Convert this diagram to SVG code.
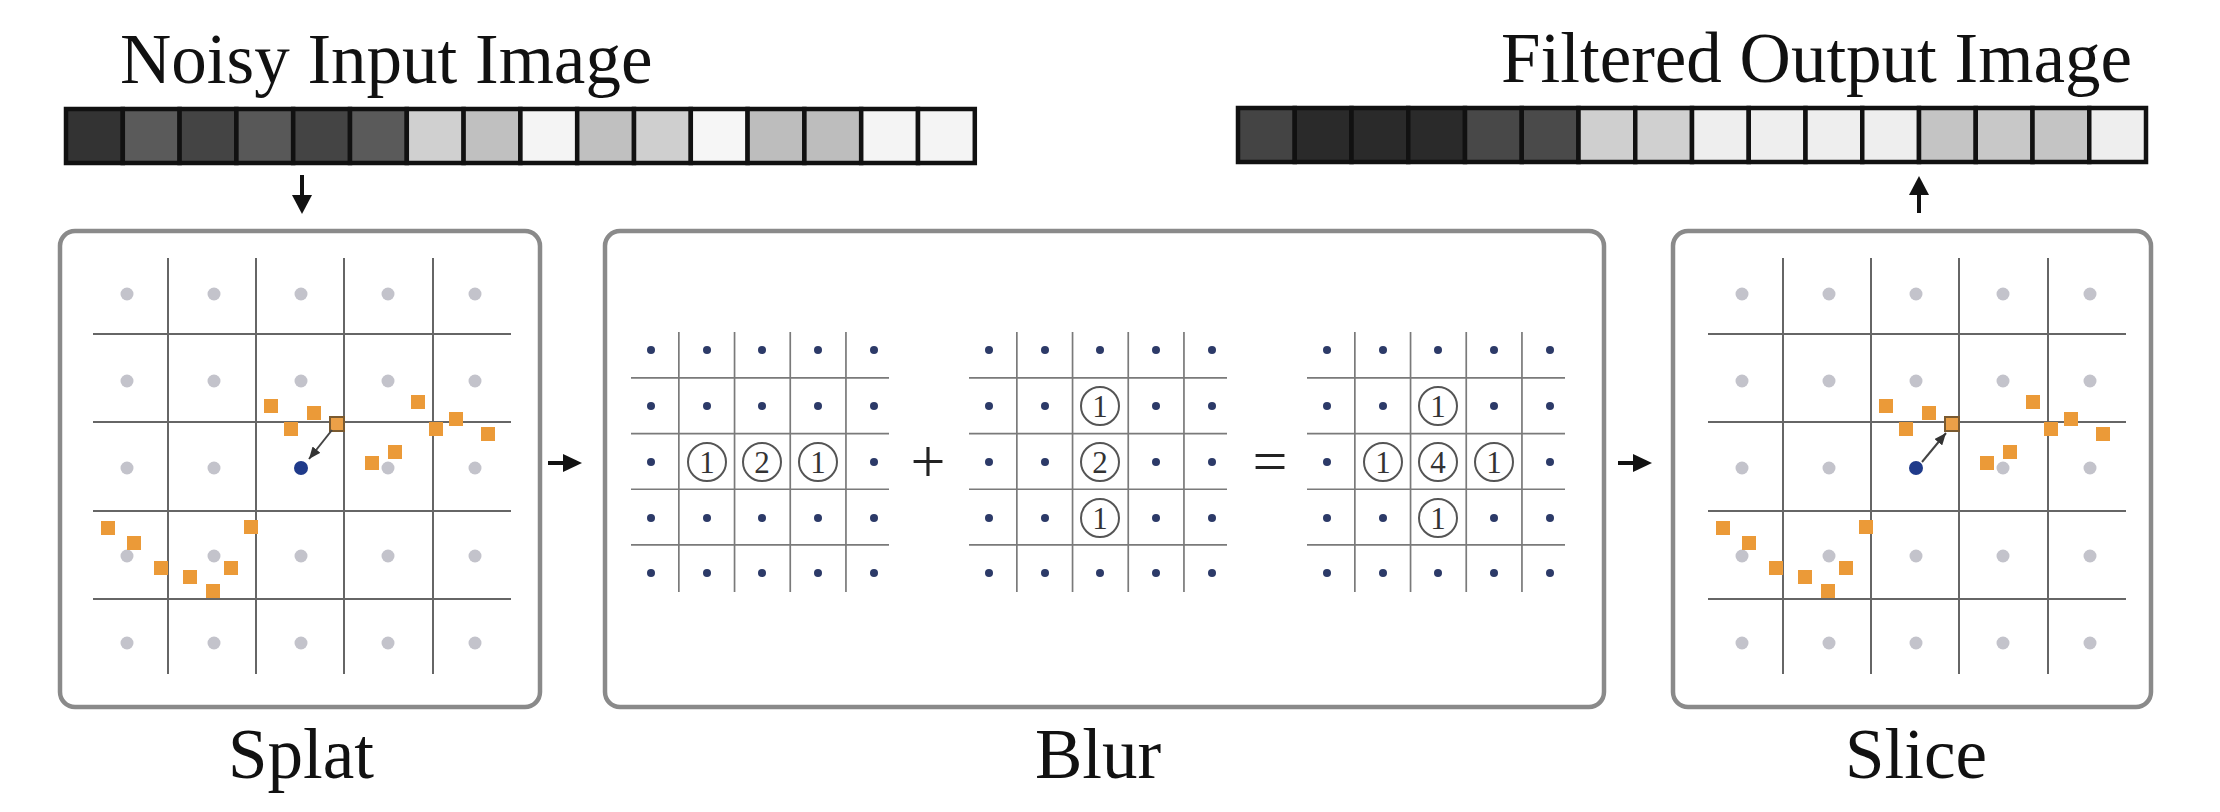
<svg xmlns="http://www.w3.org/2000/svg" width="2220" height="812" viewBox="0 0 2220 812">
<style>
.title{font-family:"Liberation Serif","Times New Roman",serif;font-size:71px;fill:#111}
.cell{stroke:#111;stroke-width:4.5}
.panel{fill:#fff;stroke:#8a8a8a;stroke-width:4.5}
.sg{stroke:#666;stroke-width:2;fill:none}
.bg{stroke:#7a7a7a;stroke-width:1.7;fill:none}
.gd{fill:#c3c3cb}
.bd{fill:#2c3a68}
.sq{fill:#eb9a38}
.cn{fill:#fff;stroke:#555;stroke-width:2}
.cnt{font-family:"Liberation Serif","Times New Roman",serif;font-size:31px;fill:#333;text-anchor:middle}
.op{font-family:"Liberation Serif","Times New Roman",serif;font-size:62px;fill:#222;text-anchor:middle}
.big{stroke:#111;stroke-width:4;fill:none}
.head{fill:#111}
.small{stroke:#444;stroke-width:2;fill:none}
</style>
<defs>
<marker id="sm" markerUnits="userSpaceOnUse" markerWidth="12" markerHeight="10" refX="12" refY="5" orient="auto">
<path d="M0,0 L12,5 L0,10 z" fill="#333"/>
</marker>
<g id="bgrid">
<path class="bg" d="M47.85,0V260M103.55,0V260M159.25,0V260M214.95,0V260M0,45.85H258M0,101.55H258M0,157.25H258M0,212.95H258"/>
</g>
<g id="field">
<path class="sg" d="M168,258V674M256,258V674M344,258V674M433,258V674M93,334H511M93,422H511M93,511H511M93,599H511"/>
<g class="gd">
<circle cx="127" cy="294" r="6.5"/><circle cx="214" cy="294" r="6.5"/><circle cx="301" cy="294" r="6.5"/><circle cx="388" cy="294" r="6.5"/><circle cx="475" cy="294" r="6.5"/>
<circle cx="127" cy="381" r="6.5"/><circle cx="214" cy="381" r="6.5"/><circle cx="301" cy="381" r="6.5"/><circle cx="388" cy="381" r="6.5"/><circle cx="475" cy="381" r="6.5"/>
<circle cx="127" cy="468" r="6.5"/><circle cx="214" cy="468" r="6.5"/><circle cx="388" cy="468" r="6.5"/><circle cx="475" cy="468" r="6.5"/>
<circle cx="127" cy="556" r="6.5"/><circle cx="214" cy="556" r="6.5"/><circle cx="301" cy="556" r="6.5"/><circle cx="388" cy="556" r="6.5"/><circle cx="475" cy="556" r="6.5"/>
<circle cx="127" cy="643" r="6.5"/><circle cx="214" cy="643" r="6.5"/><circle cx="301" cy="643" r="6.5"/><circle cx="388" cy="643" r="6.5"/><circle cx="475" cy="643" r="6.5"/>
</g>
<g class="sq">
<rect x="264" y="399" width="14" height="14"/><rect x="307" y="406" width="14" height="14"/><rect x="284" y="422" width="14" height="14"/>
<rect x="411" y="395" width="14" height="14"/><rect x="449" y="412" width="14" height="14"/><rect x="429" y="422" width="14" height="14"/><rect x="481" y="427" width="14" height="14"/>
<rect x="388" y="445" width="14" height="14"/><rect x="365" y="456" width="14" height="14"/>
<rect x="101" y="521" width="14" height="14"/><rect x="127" y="536" width="14" height="14"/><rect x="154" y="561" width="14" height="14"/><rect x="183" y="570" width="14" height="14"/><rect x="206" y="584" width="14" height="14"/><rect x="224" y="561" width="14" height="14"/><rect x="244" y="520" width="14" height="14"/>
</g>
<rect x="330" y="417" width="14" height="14" fill="#eba048" stroke="#7a5a30" stroke-width="2"/>
<circle cx="301" cy="468" r="7" fill="#1f3a8a"/>
</g>
</defs>
<rect width="2220" height="812" fill="#fff"/>

<g id="noisy-input">
<text class="title" x="120" y="83">Noisy Input Image</text>
<rect class="cell" x="66" y="109" width="56.8" height="54" fill="#333"/>
<rect class="cell" x="122.8" y="109" width="56.8" height="54" fill="#5a5a5a"/>
<rect class="cell" x="179.6" y="109" width="56.8" height="54" fill="#444"/>
<rect class="cell" x="236.4" y="109" width="56.8" height="54" fill="#585858"/>
<rect class="cell" x="293.2" y="109" width="56.8" height="54" fill="#444"/>
<rect class="cell" x="350" y="109" width="56.8" height="54" fill="#5a5a5a"/>
<rect class="cell" x="406.8" y="109" width="56.8" height="54" fill="#d0d0d0"/>
<rect class="cell" x="463.6" y="109" width="56.8" height="54" fill="#c0c0c0"/>
<rect class="cell" x="520.4" y="109" width="56.8" height="54" fill="#f4f4f4"/>
<rect class="cell" x="577.2" y="109" width="56.8" height="54" fill="#c0c0c0"/>
<rect class="cell" x="634" y="109" width="56.8" height="54" fill="#cfcfcf"/>
<rect class="cell" x="690.8" y="109" width="56.8" height="54" fill="#f6f6f6"/>
<rect class="cell" x="747.6" y="109" width="56.8" height="54" fill="#bdbdbd"/>
<rect class="cell" x="804.4" y="109" width="56.8" height="54" fill="#bdbdbd"/>
<rect class="cell" x="861.2" y="109" width="56.8" height="54" fill="#f4f4f4"/>
<rect class="cell" x="918" y="109" width="56.8" height="54" fill="#f4f4f4"/>
</g>

<g id="filtered-output">
<text class="title" x="2132" y="82" text-anchor="end">Filtered Output Image</text>
<rect class="cell" x="1238" y="108" width="56.75" height="54" fill="#444"/>
<rect class="cell" x="1294.75" y="108" width="56.75" height="54" fill="#2a2a2a"/>
<rect class="cell" x="1351.5" y="108" width="56.75" height="54" fill="#2a2a2a"/>
<rect class="cell" x="1408.25" y="108" width="56.75" height="54" fill="#2a2a2a"/>
<rect class="cell" x="1465" y="108" width="56.75" height="54" fill="#484848"/>
<rect class="cell" x="1521.75" y="108" width="56.75" height="54" fill="#4a4a4a"/>
<rect class="cell" x="1578.5" y="108" width="56.75" height="54" fill="#cfcfcf"/>
<rect class="cell" x="1635.25" y="108" width="56.75" height="54" fill="#d0d0d0"/>
<rect class="cell" x="1692" y="108" width="56.75" height="54" fill="#eeeeee"/>
<rect class="cell" x="1748.75" y="108" width="56.75" height="54" fill="#eeeeee"/>
<rect class="cell" x="1805.5" y="108" width="56.75" height="54" fill="#eeeeee"/>
<rect class="cell" x="1862.25" y="108" width="56.75" height="54" fill="#eeeeee"/>
<rect class="cell" x="1919" y="108" width="56.75" height="54" fill="#c4c4c4"/>
<rect class="cell" x="1975.75" y="108" width="56.75" height="54" fill="#c8c8c8"/>
<rect class="cell" x="2032.5" y="108" width="56.75" height="54" fill="#c4c4c4"/>
<rect class="cell" x="2089.25" y="108" width="56.75" height="54" fill="#eeeeee"/>
</g>

<g id="splat">
<rect class="panel" x="60" y="231" width="480" height="476" rx="15"/>
<use href="#field"/>
<line class="small" x1="332" y1="430" x2="309" y2="459" marker-end="url(#sm)"/>
<text class="title" x="301" y="778" text-anchor="middle">Splat</text>
</g>

<g id="blur">
<rect class="panel" x="605" y="231" width="999" height="476" rx="15"/>
<use href="#bgrid" x="631" y="332"/>
<use href="#bgrid" x="969" y="332"/>
<use href="#bgrid" x="1307" y="332"/>
<g class="bd">
<circle cx="651" cy="350" r="4"/><circle cx="707" cy="350" r="4"/><circle cx="762" cy="350" r="4"/><circle cx="818" cy="350" r="4"/><circle cx="874" cy="350" r="4"/>
<circle cx="651" cy="406" r="4"/><circle cx="707" cy="406" r="4"/><circle cx="762" cy="406" r="4"/><circle cx="818" cy="406" r="4"/><circle cx="874" cy="406" r="4"/>
<circle cx="651" cy="462" r="4"/><circle cx="874" cy="462" r="4"/>
<circle cx="651" cy="518" r="4"/><circle cx="707" cy="518" r="4"/><circle cx="762" cy="518" r="4"/><circle cx="818" cy="518" r="4"/><circle cx="874" cy="518" r="4"/>
<circle cx="651" cy="573" r="4"/><circle cx="707" cy="573" r="4"/><circle cx="762" cy="573" r="4"/><circle cx="818" cy="573" r="4"/><circle cx="874" cy="573" r="4"/>

<circle cx="989" cy="350" r="4"/><circle cx="1045" cy="350" r="4"/><circle cx="1100" cy="350" r="4"/><circle cx="1156" cy="350" r="4"/><circle cx="1212" cy="350" r="4"/>
<circle cx="989" cy="406" r="4"/><circle cx="1045" cy="406" r="4"/><circle cx="1156" cy="406" r="4"/><circle cx="1212" cy="406" r="4"/>
<circle cx="989" cy="462" r="4"/><circle cx="1045" cy="462" r="4"/><circle cx="1156" cy="462" r="4"/><circle cx="1212" cy="462" r="4"/>
<circle cx="989" cy="518" r="4"/><circle cx="1045" cy="518" r="4"/><circle cx="1156" cy="518" r="4"/><circle cx="1212" cy="518" r="4"/>
<circle cx="989" cy="573" r="4"/><circle cx="1045" cy="573" r="4"/><circle cx="1100" cy="573" r="4"/><circle cx="1156" cy="573" r="4"/><circle cx="1212" cy="573" r="4"/>

<circle cx="1327" cy="350" r="4"/><circle cx="1383" cy="350" r="4"/><circle cx="1438" cy="350" r="4"/><circle cx="1494" cy="350" r="4"/><circle cx="1550" cy="350" r="4"/>
<circle cx="1327" cy="406" r="4"/><circle cx="1383" cy="406" r="4"/><circle cx="1494" cy="406" r="4"/><circle cx="1550" cy="406" r="4"/>
<circle cx="1327" cy="462" r="4"/><circle cx="1550" cy="462" r="4"/>
<circle cx="1327" cy="518" r="4"/><circle cx="1383" cy="518" r="4"/><circle cx="1494" cy="518" r="4"/><circle cx="1550" cy="518" r="4"/>
<circle cx="1327" cy="573" r="4"/><circle cx="1383" cy="573" r="4"/><circle cx="1438" cy="573" r="4"/><circle cx="1494" cy="573" r="4"/><circle cx="1550" cy="573" r="4"/>
</g>
<g>
<circle class="cn" cx="707" cy="462" r="19"/><text class="cnt" x="707" y="473">1</text>
<circle class="cn" cx="762" cy="462" r="19"/><text class="cnt" x="762" y="473">2</text>
<circle class="cn" cx="818" cy="462" r="19"/><text class="cnt" x="818" y="473">1</text>
<circle class="cn" cx="1100" cy="406" r="19"/><text class="cnt" x="1100" y="417">1</text>
<circle class="cn" cx="1100" cy="462" r="19"/><text class="cnt" x="1100" y="473">2</text>
<circle class="cn" cx="1100" cy="518" r="19"/><text class="cnt" x="1100" y="529">1</text>
<circle class="cn" cx="1438" cy="406" r="19"/><text class="cnt" x="1438" y="417">1</text>
<circle class="cn" cx="1383" cy="462" r="19"/><text class="cnt" x="1383" y="473">1</text>
<circle class="cn" cx="1438" cy="462" r="19"/><text class="cnt" x="1438" y="473">4</text>
<circle class="cn" cx="1494" cy="462" r="19"/><text class="cnt" x="1494" y="473">1</text>
<circle class="cn" cx="1438" cy="518" r="19"/><text class="cnt" x="1438" y="529">1</text>
</g>
<text class="op" x="928" y="482">+</text>
<text class="op" x="1270" y="482">=</text>
<text class="title" x="1098" y="778" text-anchor="middle">Blur</text>
</g>

<g id="slice">
<rect class="panel" x="1673" y="231" width="478" height="476" rx="15"/>
<use href="#field" transform="translate(1615,0)"/>
<line class="small" x1="1922" y1="462" x2="1946" y2="433" marker-end="url(#sm)"/>
<text class="title" x="1916" y="778" text-anchor="middle">Slice</text>
</g>

<g id="connectors">
<line class="big" x1="302" y1="175" x2="302" y2="198"/>
<polygon class="head" points="292,195 312,195 302,214"/>
<line class="big" x1="548" y1="463" x2="566" y2="463"/>
<polygon class="head" points="563,454 563,472 582,463"/>
<line class="big" x1="1618" y1="463" x2="1636" y2="463"/>
<polygon class="head" points="1633,454 1633,472 1652,463"/>
<line class="big" x1="1919" y1="213" x2="1919" y2="192"/>
<polygon class="head" points="1909,195 1929,195 1919,176"/>
</g>
</svg>
